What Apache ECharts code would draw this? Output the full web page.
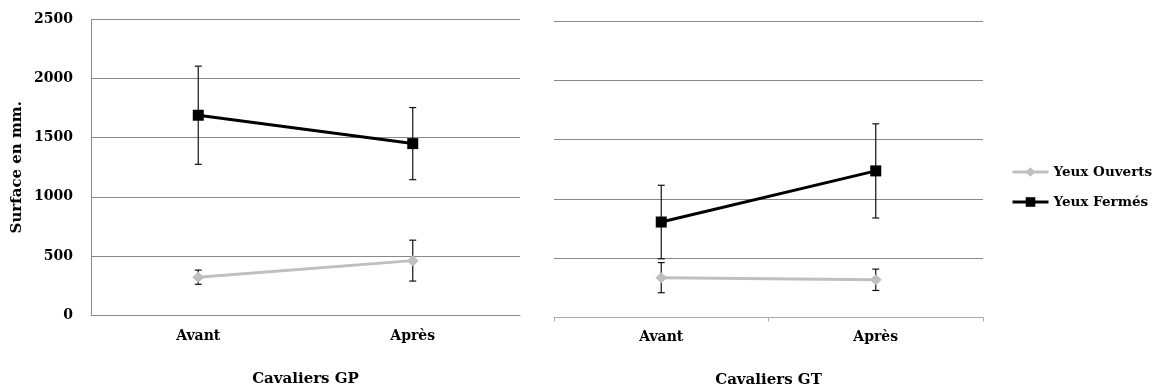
<!DOCTYPE html>
<html>
<head>
<meta charset="utf-8">
<script src="https://cdn.jsdelivr.net/npm/echarts@6/dist/echarts.min.js"></script>
<style>html,body{margin:0;padding:0;background:#fff}#c{width:1153px;height:389px}</style>
</head>
<body>
<div id="c"></div>
<script>
const categories = ['Avant', 'Après'];
const yTicks = [0, 500, 1000, 1500, 2000, 2500];
const panelNames = ['Cavaliers GP', 'Cavaliers GT'];
const seriesNames = ['Yeux Ouverts', 'Yeux Fermés'];
// Cavaliers GP
const gpOuverts = [320, 460];
const gpOuvertsErr = [60, 173];
const gpFermes = [1690, 1450];
const gpFermesErr = [415, 305];
// Cavaliers GT
const gtOuverts = [336, 318];
const gtOuvertsErr = [127, 90];
const gtFermes = [805, 1236];
const gtFermesErr = [310, 397];

const FONT = 'DejaVu Serif';
const chart = echarts.init(document.getElementById('c'), null, {renderer: 'canvas'});

function errData(vals, errs) {
  return vals.map((v, i) => [i, v - errs[i], v + errs[i]]);
}
function errSeries(idx, vals, errs) {
  return {
    type: 'custom', xAxisIndex: idx, yAxisIndex: idx, z: 1, silent: true,
    encode: {x: 0, y: [1, 2]},
    data: errData(vals, errs),
    renderItem: function (params, api) {
      const x = api.value(0);
      const lo = api.coord([x, api.value(1)]);
      const hi = api.coord([x, api.value(2)]);
      const hw = 3.5;
      const st = {stroke: '#111', lineWidth: 1.2};
      return {type: 'group', children: [
        {type: 'line', shape: {x1: lo[0], y1: lo[1], x2: hi[0], y2: hi[1]}, style: st},
        {type: 'line', shape: {x1: lo[0] - hw, y1: lo[1], x2: lo[0] + hw, y2: lo[1]}, style: st},
        {type: 'line', shape: {x1: hi[0] - hw, y1: hi[1], x2: hi[0] + hw, y2: hi[1]}, style: st}
      ]};
    }
  };
}
function lineSeries(idx, name, vals) {
  const ouv = name === seriesNames[0];
  return {
    type: 'line', name: name, xAxisIndex: idx, yAxisIndex: idx, z: 3,
    data: vals,
    symbol: ouv ? 'diamond' : 'rect',
    symbolSize: ouv ? [12, 11] : [11, 11],
    itemStyle: {color: ouv ? '#BFBFBF' : '#000'},
    lineStyle: {color: ouv ? '#BFBFBF' : '#000', width: 3},
    emphasis: {disabled: true},
    animation: false
  };
}

const labelStyle = {fontFamily: FONT, fontWeight: 'bold', fontSize: 14, color: '#000'};
const titleStyle = {fontFamily: FONT, fontWeight: 'bold', fontSize: 15, color: '#000'};

const option = {
  backgroundColor: '#fff',
  animation: false,
  legend: {
    orient: 'vertical', left: 1006, top: 160,
    itemWidth: 36, itemHeight: 12, itemGap: 16,
    data: seriesNames.map(n => ({name: n})),
    lineStyle: {width: 3},
    textStyle: Object.assign({}, labelStyle, {fontSize: 13.5}),
    selectedMode: false
  },
  grid: [
    {left: 91, top: 19.5, width: 429, height: 295.5, outerBoundsMode: 'none', containLabel: false},
    {left: 554, top: 21, width: 429, height: 296.5, outerBoundsMode: 'none', containLabel: false}
  ],
  xAxis: [0, 1].map(i => ({
    type: 'category', gridIndex: i, data: categories,
    name: panelNames[i], nameLocation: 'middle', nameGap: i === 0 ? 57 : 55,
    nameTextStyle: titleStyle,
    axisLine: {lineStyle: {color: i === 0 ? '#888' : '#aaa', width: 1}},
    axisTick: {show: i === 1, length: 4, lineStyle: {color: '#aaa'}},
    axisLabel: Object.assign({}, labelStyle, {margin: i === 0 ? 14 : 13}),
    splitLine: {show: false}
  })),
  yAxis: [0, 1].map(i => ({
    type: 'value', gridIndex: i, min: yTicks[0], max: yTicks[yTicks.length - 1], interval: 500,
    name: i === 0 ? 'Surface en mm.' : '', nameLocation: 'middle', nameGap: 66,
    nameTextStyle: titleStyle,
    axisLine: {show: i === 0, lineStyle: {color: '#888'}},
    axisTick: {show: false},
    axisLabel: Object.assign({}, labelStyle, {show: i === 0, margin: 18, formatter: v => String(v)}),
    splitLine: {show: true, lineStyle: {color: '#888', width: 1}}
  })),
  series: [
    errSeries(0, gpOuverts, gpOuvertsErr),
    errSeries(0, gpFermes, gpFermesErr),
    errSeries(1, gtOuverts, gtOuvertsErr),
    errSeries(1, gtFermes, gtFermesErr),
    lineSeries(0, seriesNames[0], gpOuverts),
    lineSeries(0, seriesNames[1], gpFermes),
    lineSeries(1, seriesNames[0], gtOuverts),
    lineSeries(1, seriesNames[1], gtFermes)
  ]
};
chart.setOption(option);
</script>
</body>
</html>
